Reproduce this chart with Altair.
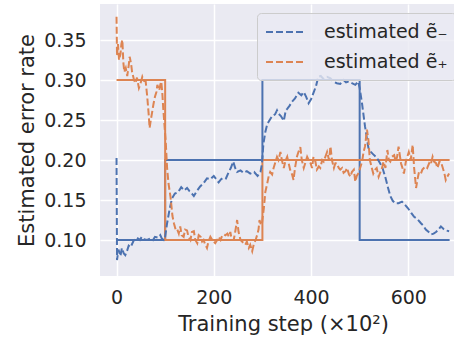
import altair as alt
import pandas as pd

labels = ["estimated ẽ₋", "estimated ẽ₊"]
colors = ["#4C72B0", "#DD8452"]

x_ticks = [0, 200, 400, 600]
y_ticks = [0.10, 0.15, 0.20, 0.25, 0.30, 0.35]

# true (step) rates
blue_true_x = [0, 100, 100, 300, 300, 500, 500, 685]
blue_true_y = [0.1, 0.1, 0.2, 0.2, 0.3, 0.3, 0.1, 0.1]
orange_true_x = [0, 100, 100, 300, 300, 685]
orange_true_y = [0.3, 0.3, 0.1, 0.1, 0.2, 0.2]

# estimated e_-
blue_est_x = [0, 1, 4, 8, 11, 15, 18, 22, 25, 29, 35, 42, 48, 52, 56, 63, 70, 75, 79, 86, 90, 93, 97,
              100, 104, 109, 114, 120, 127, 133, 139, 145, 150, 155, 159, 165, 172, 179, 186, 193,
              200, 205, 210, 215, 220, 225, 230, 235, 240, 244, 248, 255, 261, 268, 275, 283, 290, 296,
              299, 302, 306, 310, 315, 320, 326, 330, 333, 338, 344, 348, 351, 356, 361, 367, 374, 380,
              385, 390, 395, 400, 405, 410, 415, 420, 426, 433, 440, 446, 453, 460, 467, 472, 477, 484,
              491, 497, 500, 505, 511, 518, 523, 528, 535, 542, 547, 553, 558, 563, 568, 573, 580, 587,
              592, 599, 606, 612, 619, 626, 631, 636, 642, 647, 652, 657, 662, 667, 672, 677, 684]
blue_est_y = [0.2025, 0.075, 0.088, 0.08, 0.09, 0.083, 0.081, 0.087, 0.093, 0.091, 0.099, 0.103, 0.1,
              0.104, 0.101, 0.1, 0.102, 0.1, 0.104, 0.103, 0.106, 0.102, 0.1,
              0.104, 0.121, 0.138, 0.152, 0.158, 0.16, 0.166, 0.162, 0.165, 0.161, 0.158, 0.155, 0.161,
              0.167, 0.171, 0.177, 0.176,
              0.18, 0.176, 0.172, 0.176, 0.178, 0.177, 0.184, 0.19, 0.198, 0.19, 0.185, 0.187, 0.184,
              0.186, 0.183, 0.185, 0.18, 0.185,
              0.195, 0.22, 0.235, 0.245, 0.25, 0.255, 0.257, 0.262, 0.258, 0.255, 0.249, 0.262, 0.264,
              0.268, 0.273, 0.277, 0.284, 0.281,
              0.285, 0.279, 0.271, 0.276, 0.284, 0.292, 0.304, 0.305, 0.301, 0.304, 0.302, 0.298, 0.296,
              0.295, 0.3, 0.297, 0.298, 0.296,
              0.294, 0.298, 0.29, 0.27, 0.242, 0.215, 0.21, 0.207, 0.203, 0.196, 0.19, 0.178, 0.166,
              0.155, 0.149, 0.146, 0.146, 0.148,
              0.145, 0.14, 0.134, 0.129, 0.126, 0.121, 0.118, 0.113, 0.11, 0.107, 0.108, 0.11, 0.113,
              0.117, 0.114, 0.112, 0.111]

# estimated e_+
orange_est_x = [0, 1, 3, 5, 8, 10, 12, 14, 16, 19, 22, 25, 27, 30, 32, 36, 39, 42, 46, 49, 53, 56, 60,
                63, 66, 68, 71, 73, 76, 79, 82, 84, 86, 88, 90, 92, 94, 96, 99, 101, 104, 107, 111, 115,
                118, 122, 125, 128, 131, 134, 138, 141, 145, 148, 152, 155, 159, 162, 166, 169, 173, 176,
                179, 182, 186, 189, 193, 197, 200, 203, 207, 210, 214, 217, 221, 224, 228, 231, 234, 237,
                241, 244, 248, 251, 255, 258, 262, 265, 268, 272, 275, 279, 282, 286, 289, 292, 294, 297,
                299, 301, 303, 306, 310, 313, 316, 320, 323, 326, 330, 333, 337, 340, 344, 347, 351, 354,
                357, 361, 364, 367, 371, 374, 378, 381, 385, 388, 392, 395, 399, 402, 405, 409, 412, 416,
                419, 423, 426, 430, 433, 437, 440, 443, 447, 450, 453, 457, 460, 464, 467, 471, 474, 478,
                481, 484, 488, 491, 494, 498, 501, 505, 508, 511, 515, 518, 521, 525, 528, 532, 535, 539,
                542, 546, 549, 553, 557, 560, 563, 566, 571, 574, 577, 580, 585, 588, 591, 595, 598, 601,
                605, 609, 612, 616, 619, 622, 626, 629, 632, 636, 639, 643, 646, 650, 653, 657, 660, 664,
                667, 671, 674, 677, 680, 684]
orange_est_y = [0.379, 0.33, 0.345, 0.325, 0.332, 0.345, 0.35, 0.322, 0.31, 0.315, 0.305, 0.318, 0.329,
                0.32, 0.31, 0.3, 0.296, 0.303, 0.29, 0.295, 0.304, 0.299, 0.298,
                0.28, 0.258, 0.24, 0.252, 0.259, 0.27, 0.279, 0.285, 0.294, 0.29, 0.287, 0.294, 0.298,
                0.285, 0.265, 0.24, 0.225, 0.19, 0.17, 0.154, 0.13,
                0.121, 0.112, 0.113, 0.108, 0.117, 0.106, 0.104, 0.113, 0.112, 0.104, 0.1, 0.11, 0.111,
                0.1, 0.096, 0.106, 0.104, 0.098,
                0.1, 0.095, 0.09, 0.098, 0.104, 0.1, 0.098, 0.096, 0.1, 0.104, 0.1, 0.105, 0.107, 0.106,
                0.108, 0.104, 0.11, 0.1,
                0.1, 0.11, 0.125, 0.11, 0.1, 0.098, 0.096, 0.094, 0.098, 0.09, 0.094, 0.086, 0.094, 0.1,
                0.106, 0.113, 0.125, 0.119,
                0.12, 0.13, 0.14, 0.16, 0.171, 0.18, 0.185, 0.182, 0.19, 0.196, 0.204, 0.2, 0.21, 0.2,
                0.19, 0.198, 0.204, 0.196,
                0.188, 0.182, 0.175, 0.19, 0.204, 0.21, 0.216, 0.2, 0.19, 0.196, 0.204, 0.2, 0.196, 0.19,
                0.204, 0.198, 0.188, 0.192,
                0.19, 0.2, 0.198, 0.205, 0.21, 0.2, 0.217, 0.2, 0.19, 0.196, 0.196, 0.19, 0.188, 0.19,
                0.184, 0.186, 0.19, 0.182,
                0.179, 0.185, 0.188, 0.173, 0.18, 0.184, 0.19, 0.198, 0.21, 0.217, 0.238, 0.225, 0.2,
                0.19, 0.183, 0.188, 0.19, 0.179,
                0.184, 0.19, 0.198, 0.19, 0.2125, 0.2, 0.198, 0.204, 0.206, 0.198, 0.204, 0.2167, 0.196,
                0.19, 0.183, 0.198, 0.204, 0.21,
                0.2, 0.219, 0.19, 0.165, 0.176, 0.185, 0.183, 0.188, 0.19, 0.192, 0.19, 0.196, 0.194,
                0.204, 0.198, 0.196, 0.19, 0.198,
                0.198, 0.19, 0.184, 0.175, 0.179, 0.183]


def frame(xs, ys, name):
    return pd.DataFrame({"x": xs, "y": ys, "series": name, "i": list(range(len(xs)))})


true_blue = frame(blue_true_x, blue_true_y, labels[0])
true_orange = frame(orange_true_x, orange_true_y, labels[1])
est = pd.concat([frame(blue_est_x, blue_est_y, labels[0]),
                 frame(orange_est_x, orange_est_y, labels[1])])

X = alt.X("x:Q", scale=alt.Scale(domain=[-34, 694], nice=False, zero=False),
          axis=alt.Axis(values=x_ticks, title="Training step (×10²)", titleX=183,
                        titleAlign="center"))
Y = alt.Y("y:Q", scale=alt.Scale(domain=[0.055, 0.395], nice=False, zero=False),
          axis=alt.Axis(values=y_ticks, format=".2f", title="Estimated error rate"))
O = alt.Order("i:Q")

l1 = alt.Chart(true_blue).mark_line(color=colors[0], strokeWidth=2).encode(x=X, y=Y, order=O)
l2 = alt.Chart(true_orange).mark_line(color=colors[1], strokeWidth=2).encode(x=X, y=Y, order=O)
l3 = alt.Chart(est).mark_line(strokeWidth=2, strokeDash=[7, 3]).encode(
    x=X, y=Y, order=O,
    color=alt.Color("series:N", scale=alt.Scale(domain=labels, range=colors),
                    legend=alt.Legend(title=None, orient="none", legendX=157, legendY=9,
                                      symbolType="M-1.9,0H1.9", symbolSize=400,
                                      symbolStrokeWidth=2, symbolDash=[7, 3],
                                      symbolOffset=9, labelOffset=28,
                                      labelFont="DejaVu Sans", labelFontSize=19,
                                      labelColor="#262626", fillColor="rgba(234,234,242,0.8)",
                                      strokeColor="#cccccc", cornerRadius=4, padding=8,
                                      rowPadding=9, labelLimit=300)),
)

chart = alt.layer(l1, l2, l3).properties(
    width=354, height=272,
    autosize=alt.AutoSizeParams(type="none"),
    padding={"left": 100, "top": 4, "right": 0, "bottom": 63},
).configure_view(fill="#EAEAF2", stroke=None).configure_axis(
    grid=True, gridColor="white", gridWidth=1.5, domain=False, ticks=False, tickSize=0,
    labelFont="DejaVu Sans", labelFontSize=19, labelColor="#262626", labelPadding=12,
    titleFont="DejaVu Sans", titleFontSize=21, titleFontWeight="normal", titleColor="#262626",
    titlePadding=6,
).configure_axisY(labelPadding=14)

chart.save("out.html", embed_options={"renderer": "svg", "actions": False})
